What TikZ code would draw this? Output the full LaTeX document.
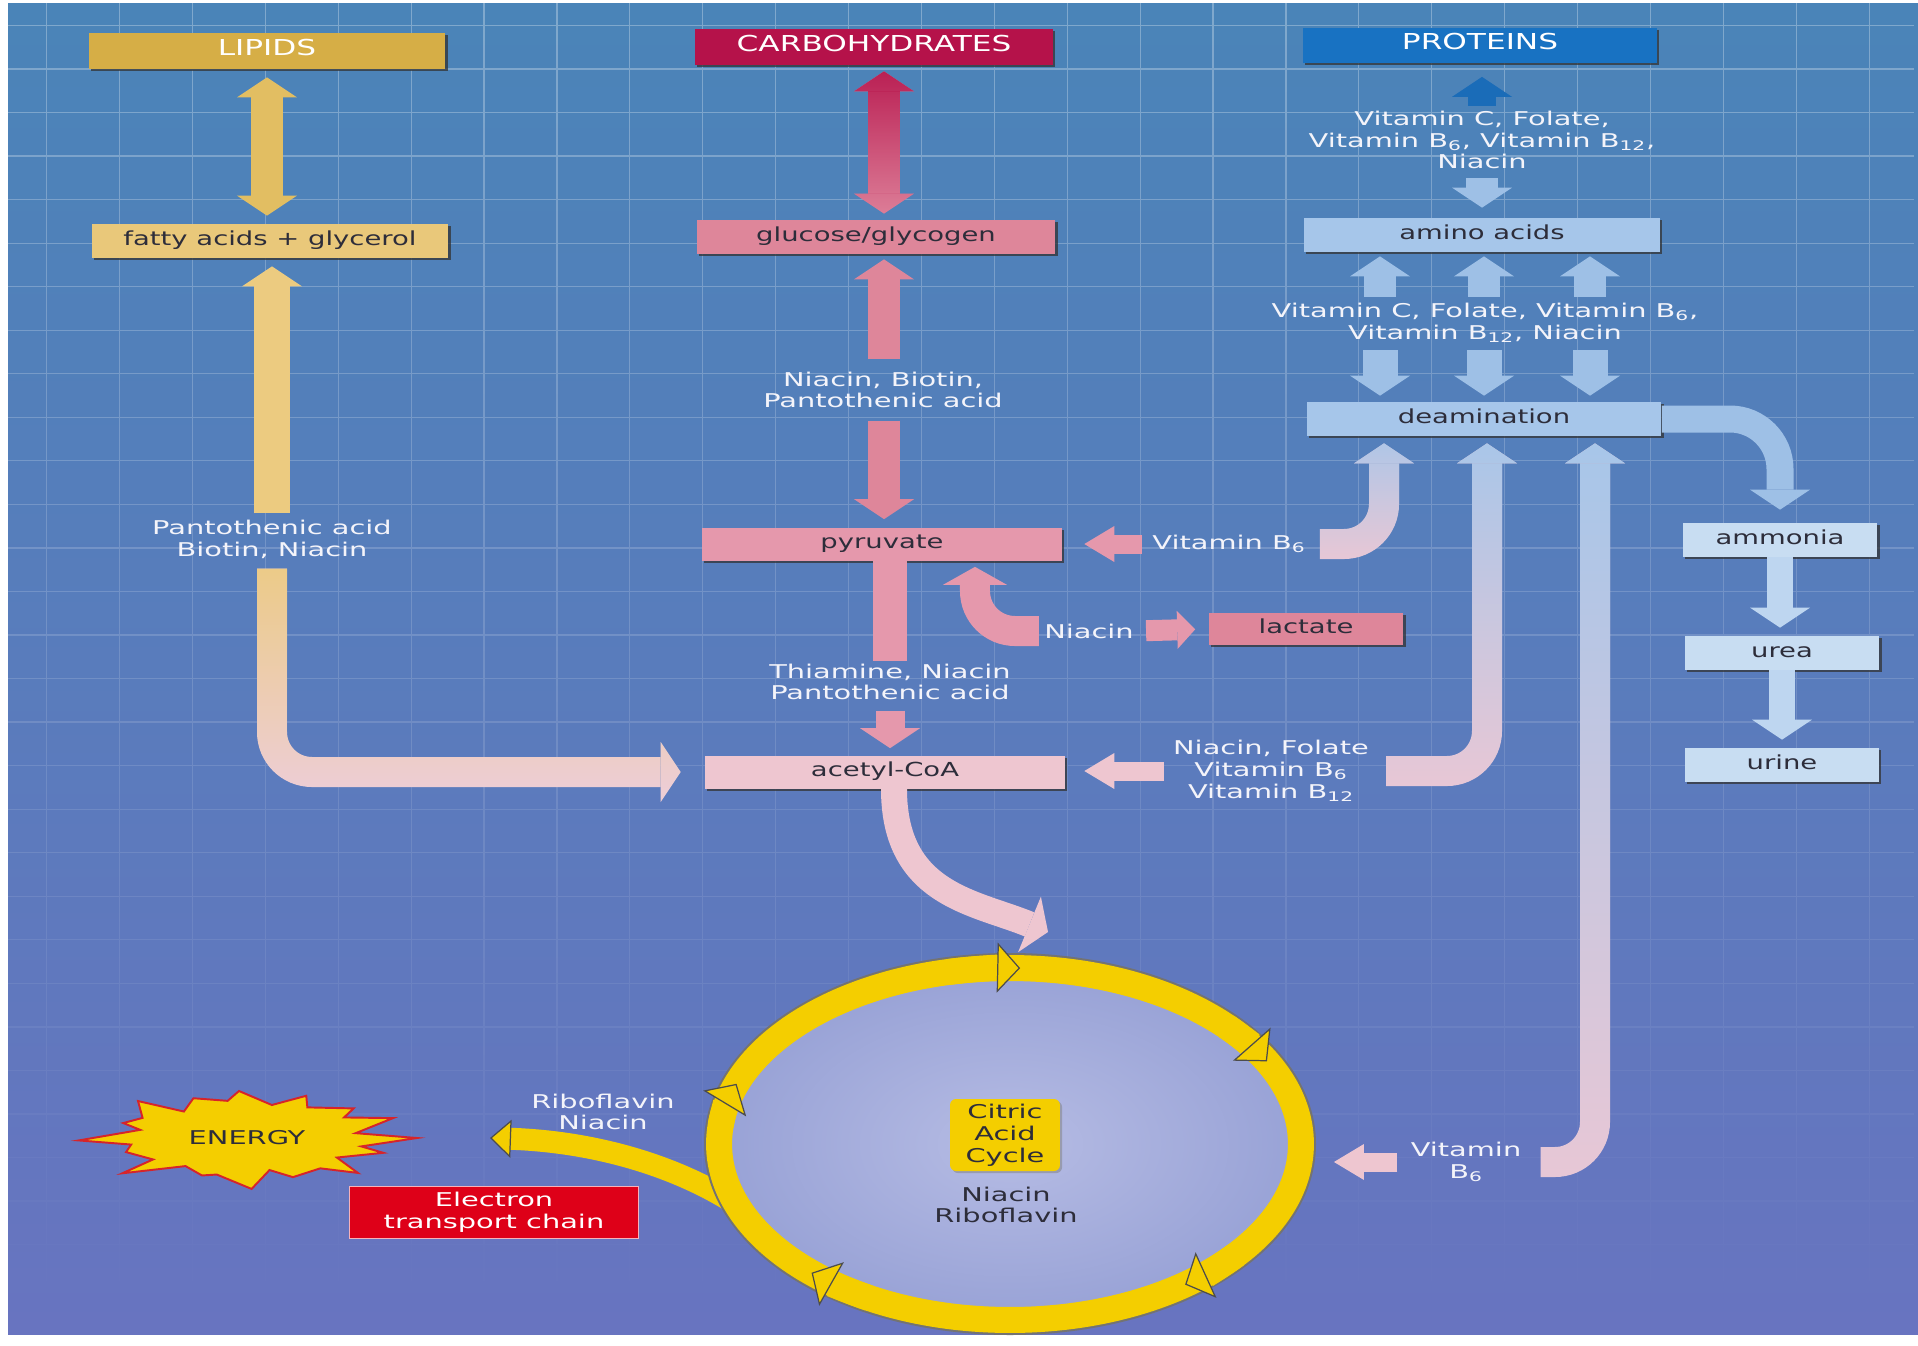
\documentclass[tikz,border=0pt]{standalone}
\usepackage{fontspec}
\setmainfont{DejaVu Sans}[FakeStretch=1.42]
\newfontfamily\lblfam{DejaVu Sans}[FakeStretch=1.52]
\usetikzlibrary{arrows.meta,calc,shadows,shapes.geometric,fadings}

\definecolor{bgtop}{RGB}{74,132,184}
\definecolor{bgbot}{RGB}{104,116,192}
\definecolor{lipcol}{RGB}{214,174,70}
\definecolor{lipbox}{RGB}{233,200,122}
\definecolor{lipar}{RGB}{226,190,98}
\definecolor{lipbar}{RGB}{236,203,128}
\definecolor{lippk}{RGB}{238,206,212}
\definecolor{carbcol}{RGB}{181,18,74}
\definecolor{carbpk}{RGB}{226,140,162}
\definecolor{glucol}{RGB}{222,134,154}
\definecolor{pyrcol}{RGB}{229,152,172}
\definecolor{acpk}{RGB}{238,198,208}
\definecolor{protcol}{RGB}{24,114,194}
\definecolor{protdk}{RGB}{26,108,184}
\definecolor{aminocol}{RGB}{166,198,234}
\definecolor{bluear}{RGB}{158,192,230}
\definecolor{ureacol}{RGB}{200,221,242}
\definecolor{ureaar}{RGB}{190,214,240}
\definecolor{jpk}{RGB}{232,200,214}
\definecolor{ringyel}{RGB}{244,206,0}
\definecolor{tcain}{RGB}{182,188,228}
\definecolor{tcaout}{RGB}{152,162,214}
\definecolor{etcred}{RGB}{222,0,24}
\definecolor{engred}{RGB}{214,36,42}
\definecolor{txtdk}{RGB}{45,45,58}
\definecolor{txtlt}{RGB}{244,244,250}

\tikzfading[name=fadeS, top color=transparent!0, bottom color=transparent!100]
\tikzfading[name=gridfade, top color=transparent!0, middle color=transparent!0, bottom color=transparent!100]

\newcommand\hdfont{\fontsize{12.5}{14}\selectfont}
\newcommand\bxfont{\fontsize{11}{13}\selectfont}
\newcommand\vtfont{\lblfam\fontsize{10.8}{12.4}\selectfont}
\newcommand\vsub[1]{\textsubscript{#1}}

\begin{document}
\begin{tikzpicture}[x=0.02cm, y=-0.02cm,
  bigtip/.tip={Triangle[width=1.2cm,length=0.4cm,line width=0pt]},
  hooktip/.tip={Triangle[width=1.28cm,length=0.36cm,line width=0pt]},
  smtip/.tip={Triangle[width=0.76cm,length=0.36cm,line width=0pt]},
  blktip/.tip={Triangle[width=0.72cm,length=0.6cm,line width=0pt]},
  ringtip/.tip={Triangle[width=1cm,length=0.46cm,fill=ringyel,color=black!70,line width=0.7pt]},
  brtip/.tip={Triangle[width=0.76cm,length=0.42cm,fill=ringyel,color=black!70,line width=0.7pt]},
  band/.style={line width=#1, line cap=butt},
  tbox/.style={rectangle, inner sep=0pt, font=\bxfont, text=txtdk,
    drop shadow={shadow xshift=1.2pt, shadow yshift=-1.2pt, opacity=0.75, fill=black!80}},
  onel/.style={text height=0.73em, text depth=0.21em},
  hdbox/.style={tbox, onel, font=\hdfont, text=white},
  vt/.style={inner sep=0pt, align=center, font=\vtfont, text=txtlt}]

\useasboundingbox (0,0) rectangle (1918,1346);
\fill[white] (0,0) rectangle (1918,1346);
\shade[top color=bgtop, bottom color=bgbot] (8,3) rectangle (1918,1334);
% grid
\begin{scope}
\clip (8,3) rectangle (1918,1334);
\draw[white, opacity=0.3, line width=0.7pt, path fading=gridfade]
  \foreach \gx in {48,121,...,1920} {(\gx,0) -- (\gx,1300)}
  \foreach \gy in {23,66.6,...,1300} {(0,\gy) -- (1918,\gy)};
\end{scope}

% boxes
\node[hdbox, fill=lipcol, minimum width=7.14cm, minimum height=0.72cm] (lip) at (267,51) {LIPIDS};
\node[hdbox, fill=carbcol, minimum width=7.16cm, minimum height=0.72cm] (carb) at (874,47) {CARBOHYDRATES};
\node[hdbox, fill=protcol, minimum width=7.08cm, minimum height=0.70cm] (prot) at (1480,45) {PROTEINS};
\node[tbox, onel, fill=lipbox, minimum width=7.14cm, minimum height=0.68cm] (fat) at (270,241) {fatty acids + glycerol};
\node[tbox, onel, fill=glucol, minimum width=7.18cm, minimum height=0.68cm] (glu) at (876,237) {glucose/glycogen};
\node[tbox, onel, fill=aminocol, minimum width=7.12cm, minimum height=0.68cm] (amino) at (1482,235) {amino acids};
\node[tbox, onel, fill=aminocol, minimum width=7.10cm, minimum height=0.68cm] (deam) at (1484,419) {deamination};
\node[tbox, onel, fill=pyrcol, minimum width=7.20cm, minimum height=0.66cm] (pyr) at (882,544) {pyruvate};
\node[tbox, onel, fill=acpk, minimum width=7.20cm, minimum height=0.66cm] (acoa) at (885,772) {acetyl-CoA};
\node[tbox, onel, fill=glucol, minimum width=3.90cm, minimum height=0.64cm] (lact) at (1306,629) {lactate};
\node[tbox, onel, fill=ureacol, minimum width=3.90cm, minimum height=0.68cm] (ammo) at (1780,540) {ammonia};
\node[tbox, onel, fill=ureacol, minimum width=3.90cm, minimum height=0.68cm] (urea) at (1782,653) {urea};
\node[tbox, onel, fill=ureacol, minimum width=3.88cm, minimum height=0.68cm] (urine) at (1782,765) {urine};

% labels
\node[vt] (vitP) at (1482,140) {Vitamin C, Folate,\\Vitamin B\vsub{6}, Vitamin B\vsub{12},\\Niacin};
\node[vt] (vitA) at (1485,323) {Vitamin C, Folate, Vitamin B\vsub{6},\\Vitamin B\vsub{12}, Niacin};
\node[vt] (vitG) at (883,390) {Niacin, Biotin,\\Pantothenic acid};
\node[vt] (vitL) at (272,539) {Pantothenic acid\\Biotin, Niacin};
\node[vt] (vitPy) at (1229,544) {Vitamin B\vsub{6}};
\node[vt] (niac) at (1089,631) {Niacin};
\node[vt] (vitPA) at (890,682) {Thiamine, Niacin\\Pantothenic acid};
\node[vt] (vitAc) at (1271,771) {Niacin, Folate\\Vitamin B\vsub{6}\\Vitamin B\vsub{12}};
\node[vt] (vitRN) at (603,1112) {Riboflavin\\Niacin};
\node[vt] (vitCy) at (1466,1162) {Vitamin\\B\vsub{6}};

\coordinate (ccol) at (884,0);
\coordinate (acin) at (1048,932);
\coordinate (brs) at (737,1205);
\coordinate (brt) at (490,1138);
\coordinate (engc) at (247,1138);

% lipids
\draw[band=0.64cm, lipar, bigtip-bigtip, shorten <=0.16cm, shorten >=0.16cm] (lip.south) -- (lip.south |- fat.north);
\draw[band=0.72cm, lipbar, -bigtip, shorten <=0.12cm, shorten >=0.16cm] (vitL.north) -- (vitL.north |- fat.south);
\draw[band=0.6cm, lippk, rounded corners=0.8cm, -bigtip, shorten <=0.2cm, shorten >=0.48cm] (vitL.south) |- (acoa.west);
\draw[band=0.6cm, lipbar, rounded corners=0.8cm, -bigtip, shorten <=0.2cm, shorten >=0.48cm, path fading=fadeS] (vitL.south) |- (acoa.west);

% carbohydrates
\draw[band=0.64cm, carbpk, bigtip-bigtip, shorten <=0.12cm, shorten >=0.12cm] (carb.south -| ccol) -- (glu.north -| ccol);
\draw[band=0.64cm, carbcol, bigtip-bigtip, shorten <=0.12cm, shorten >=0.12cm, path fading=fadeS] (carb.south -| ccol) -- (glu.north -| ccol);
\draw[band=0.64cm, glucol, -bigtip, shorten <=0.24cm, shorten >=0.1cm] (vitG.north -| ccol) -- (glu.south -| ccol);
\draw[band=0.64cm, glucol, -bigtip, shorten <=0.24cm, shorten >=0.16cm] (vitG.south -| ccol) -- (pyr.north -| ccol);
\draw[band=0.68cm, pyrcol, shorten >=0.04cm] (pyr.south -| vitPA.north) -- (vitPA.north);
\draw[band=0.58cm, pyrcol, -bigtip, shorten <=0.2cm, shorten >=0.14cm] (vitPA.south) -- (vitPA.south |- acoa.north);
\draw[band=0.6cm, pyrcol, rounded corners=0.8cm, -hooktip, shorten <=0.1cm, shorten >=0.12cm] (niac.west) -| ([xshift=1.86cm]pyr.south);
\draw[band=0.42cm, pyrcol, -smtip, shorten <=0.24cm, shorten >=0.26cm] (niac.east) -- (lact.west);
\draw[band=0.38cm, pyrcol, -blktip, shorten >=0.44cm] ([xshift=-0.2cm]vitPy.west) -- (pyr.east |- vitPy.west);
\draw[band=0.38cm, acpk, -blktip, shorten >=0.38cm] ([xshift=-0.18cm]vitAc.west) -- (acoa.east |- vitAc.west);
\draw[band=0.52cm, acpk, -bigtip] ([xshift=0.18cm]acoa.south) .. controls (894,895) and (975,902) .. (acin);

% proteins
\draw[band=0.56cm, protdk, -bigtip, shorten <=0.1cm, shorten >=0.28cm] (vitP.north) -- (vitP.north |- prot.south);
\draw[band=0.64cm, bluear, -bigtip, shorten <=0.18cm, shorten >=0.2cm] (vitP.south) -- (vitP.south |- amino.north);
\foreach \dx in {-102,2,108} {
  \draw[band=0.64cm, bluear, -bigtip, shorten <=0.12cm, shorten >=0.08cm] ($(amino.south |- vitA.north)+(\dx,0)$) -- ($(amino.south)+(\dx,0)$);
  \draw[band=0.7cm, bluear, -bigtip, shorten <=0.14cm, shorten >=0.12cm] ($(amino.south |- vitA.south)+(\dx,0)$) -- ($(amino.south |- deam.north)+(\dx,0)$);
}
\foreach \nd/\sh/\dx in {vitPy/0.28cm/-100, vitAc/0.34cm/3, vitCy/0.38cm/111} {
  \draw[band=0.6cm, jpk, rounded corners=0.8cm, -bigtip, shorten >=0.14cm] ([xshift=\sh]\nd.east) -| ($(deam.south)+(\dx,0)$);
  \draw[band=0.6cm, aminocol, rounded corners=0.8cm, -bigtip, shorten >=0.14cm, path fading=fadeS] ([xshift=\sh]\nd.east) -| ($(deam.south)+(\dx,0)$);
}
\draw[band=0.54cm, bluear, rounded corners=1cm, -bigtip, shorten >=0.26cm] (deam.east) -| (ammo.north);
\draw[band=0.52cm, ureaar, -bigtip, shorten >=0.16cm] (ammo.south) -- (ammo.south |- urea.north);
\draw[band=0.52cm, ureaar, -bigtip, shorten >=0.16cm] (urea.south) -- (urea.south |- urine.north);

% citric acid cycle
\draw[band=0.44cm, ringyel, -brtip] (brs) .. controls (680,1168) and (600,1142) .. (brt);
\draw[black!55, line width=0.6cm] (1010,1144) ellipse [x radius=291, y radius=176];
\node[ellipse, minimum width=11.64cm, minimum height=7.04cm, inner color=tcain, outer color=tcaout,
  draw=ringyel, line width=0.52cm] (cyc) at (1010,1144) {};
\foreach \ang [evaluate=\ang as \ast using \ang-14] in {-88,-28,53,133,200}
  \draw[band=0.52cm, ringyel, -ringtip] (cyc.center) ++(\ast:291 and 176) arc[start angle=\ast, end angle=\ang, x radius=291, y radius=176];
\node[rectangle, rounded corners=0.12cm, fill=ringyel, minimum width=2.2cm, minimum height=1.44cm, inner sep=0pt,
  align=center, font=\vtfont, text=txtdk, drop shadow={shadow xshift=1.2pt, shadow yshift=-1.2pt, opacity=0.5}] (tca) at (1005,1135) {Citric\\Acid\\Cycle};
\node[vt, text=txtdk] (tcavit) at (1006,1205) {Niacin\\Riboflavin};
\draw[band=0.38cm, acpk, -blktip, shorten >=0.4cm] ([xshift=-0.26cm]vitCy.west) -- (vitCy.west -| cyc.east);

% energy
\begin{scope}[shift={(engc)}]
\draw[fill=ringyel, draw=engred, line width=1.1pt, line join=miter] (0:170 and 52)
  \foreach \k [evaluate=\k as \aa using \k*11.25+3*sin(\k*131),
               evaluate=\k as \rr using {ifthenelse(isodd(\k),0.68+0.05*cos(\k*77),0.88+0.12*sin(\k*97))}] in {1,...,31}
  { -- (\aa:{\rr*170} and {\rr*52}) } -- cycle;
\end{scope}
\node[inner sep=0pt, font=\vtfont, text=txtdk] (eng) at (engc) {ENERGY};
\node[rectangle, fill=etcred, draw=white!70!etcred, line width=0.5pt, minimum width=5.78cm, minimum height=1.04cm, inner sep=0pt,
  align=center, font=\vtfont, text=white] (etc) at (494,1212) {Electron\\transport chain};
\end{tikzpicture}
\end{document}
